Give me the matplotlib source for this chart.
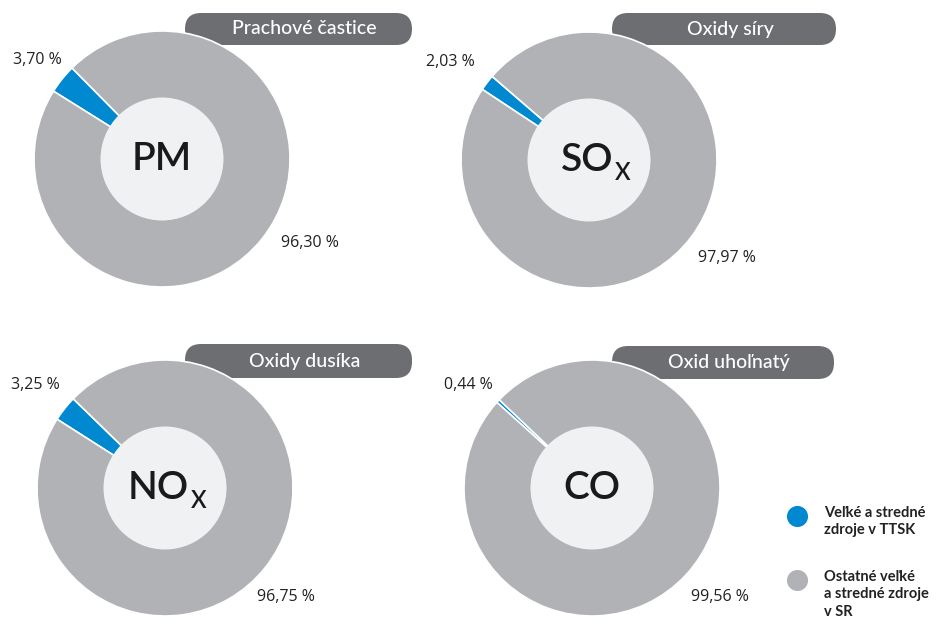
import matplotlib.pyplot as plt
from matplotlib.patches import FancyBboxPatch, Circle

# podiel emisií (%)
titles = ["Prachové častice", "Oxidy síry", "Oxidy dusíka", "Oxid uhoľnatý"]
symbols = ["PM", "SO", "NO", "CO"]
subscripts = ["", "X", "X", ""]
share_ttsk = [3.70, 2.03, 3.25, 0.44]
share_rest = [96.30, 97.97, 96.75, 99.56]
legend_labels = ["Veľké a stredné\nzdroje v TTSK", "Ostatné veľké\na stredné zdroje\nv SR"]

BLUE = "#0088d1"
GRAY = "#b1b2b6"
INNER = "#f0f1f3"
BADGE = "#6d6e72"
W, H = 945, 626

def fmt(v):
    return f"{v:.2f}".replace(".", ",") + " %"

fig = plt.figure(figsize=(W / 100, H / 100), dpi=100)
ax = fig.add_axes([0, 0, 1, 1])

# rozloženie (pixely obrázka, y zhora)
centers = [(162, 159), (589, 160), (165, 488), (592, 488)]
starts = [148, 146.5, 147.5, 138]
badges = [(185, 13, 412, 45), (612, 13, 836, 45), (185, 344, 412, 378), (612, 346, 834, 379)]
lab_small = [(37, 60), (450, 62), (35, 385), (468, 385)]
lab_big = [(310, 243), (727, 258), (286, 597), (720, 597)]
R, r_in = 128, 61.5

for i in range(4):
    cx, cy = centers[i]
    cy = H - cy
    x0, y0, x1, y1 = badges[i]
    ax.add_patch(FancyBboxPatch((x0, H - y1), x1 - x0, y1 - y0,
                                boxstyle="round,pad=0,rounding_size=16",
                                fc=BADGE, ec="none", zorder=1))
    ax.text(x0 + (x1 - x0) / 2 + 6, H - (y0 + y1) / 2, titles[i], color="white",
            fontsize=14, fontweight="medium", fontfamily="Lato",
            ha="center", va="center", zorder=2)

    ax.pie([share_ttsk[i], share_rest[i]], colors=[BLUE, GRAY], startangle=starts[i],
           counterclock=False, center=(cx, cy), radius=R,
           wedgeprops=dict(width=R - r_in + 2, edgecolor="white", linewidth=1.2, zorder=3))
    ax.add_patch(Circle((cx, cy), r_in, fc=INNER, ec="none", zorder=4))

    sym = dict(fontsize=28, fontweight="semibold", fontfamily="Lato", color="#1a1a1a",
               va="center", zorder=5)
    if subscripts[i]:
        ax.text(cx + 24, cy, symbols[i], ha="right", **sym)
        ax.text(cx + 26, cy - 13, subscripts[i], ha="left",
                **{**sym, "fontsize": 17})
    else:
        ax.text(cx, cy, symbols[i], ha="center", **sym)

    ax.text(lab_small[i][0], H - lab_small[i][1], fmt(share_ttsk[i]), fontsize=11.5,
            fontfamily="Open Sans", color="#222222", ha="center", va="center")
    ax.text(lab_big[i][0], H - lab_big[i][1], fmt(share_rest[i]), fontsize=11.5,
            fontfamily="Open Sans", color="#222222", ha="center", va="center")

# legenda
for (mx, my), col, lab in zip([(797, 516), (797, 580)], [BLUE, GRAY], legend_labels):
    ax.scatter([mx], [H - my], s=200, color=col, zorder=5)
    ax.text(824, H - my + 10, lab, fontsize=10.5, fontweight="bold", fontfamily="Lato",
            color="#222222", ha="left", va="top", linespacing=1.3)

ax.set_xlim(0, W)
ax.set_ylim(0, H)
ax.set_aspect("equal")
ax.axis("off")

fig.savefig("out.png", dpi=100)
